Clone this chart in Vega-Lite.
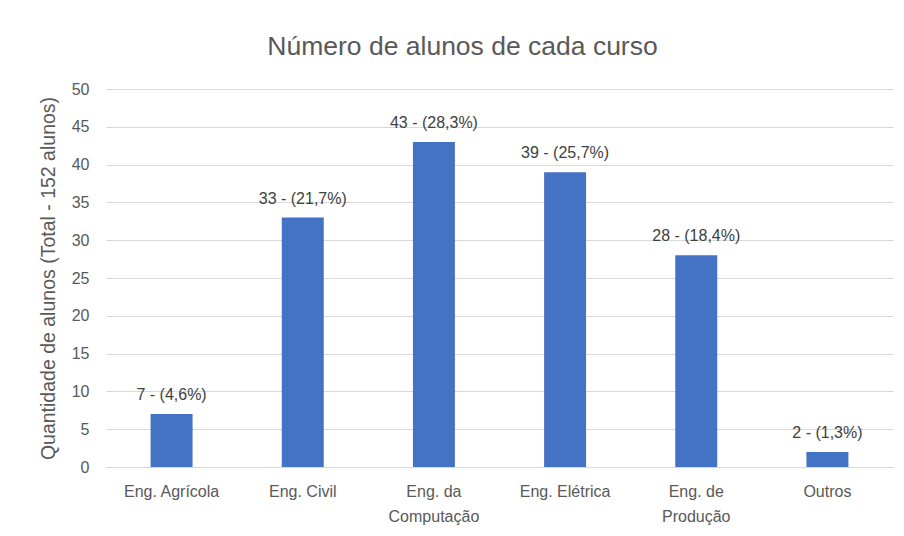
{
  "$schema": "https://vega.github.io/schema/vega-lite/v6.json",
  "width": 787,
  "height": 378,
  "autosize": {"type": "none"},
  "padding": {"left": 106, "top": 89, "right": 11, "bottom": 69},
  "background": "white",
  "config": {
    "view": {"stroke": null},
    "font": "Liberation Sans, sans-serif"
  },
  "title": {
    "text": "Número de alunos de cada curso",
    "fontSize": 26.5,
    "fontWeight": "normal",
    "color": "#595959",
    "anchor": "middle",
    "dx": -37,
    "offset": 21,
    "font": "Liberation Sans, sans-serif"
  },
  "data": {
    "values": [
      {"curso": "Eng. Agrícola", "alunos": 7, "rotulo": "7 - (4,6%)"},
      {"curso": "Eng. Civil", "alunos": 33, "rotulo": "33 - (21,7%)"},
      {"curso": "Eng. da Computação", "alunos": 43, "rotulo": "43 - (28,3%)"},
      {"curso": "Eng. Elétrica", "alunos": 39, "rotulo": "39 - (25,7%)"},
      {"curso": "Eng. de Produção", "alunos": 28, "rotulo": "28 - (18,4%)"},
      {"curso": "Outros", "alunos": 2, "rotulo": "2 - (1,3%)"}
    ]
  },
  "encoding": {
    "x": {
      "field": "curso",
      "type": "nominal",
      "sort": null,
      "scale": {"paddingInner": 0.68, "paddingOuter": 0.34},
      "axis": {
        "title": null,
        "labelAngle": 0,
        "labelFontSize": 16,
        "labelColor": "#595959",
        "labelPadding": 16,
        "labelLineHeight": 25,
        "labelBaseline": "top",
        "ticks": false,
        "domainColor": "#d9d9d9",
        "domainWidth": 1,
        "labelExpr": "datum.label == 'Eng. da Computação' ? ['Eng. da', 'Computação'] : datum.label == 'Eng. de Produção' ? ['Eng. de', 'Produção'] : datum.label"
      }
    },
    "y": {
      "field": "alunos",
      "type": "quantitative",
      "scale": {"domain": [0, 50]},
      "axis": {
        "title": "Quantidade de alunos (Total -  152 alunos)",
        "titleFontSize": 19.5,
        "titleFontWeight": "normal",
        "titleColor": "#595959",
        "titlePadding": 13,
        "values": [0, 5, 10, 15, 20, 25, 30, 35, 40, 45, 50],
        "labelFontSize": 16,
        "labelColor": "#595959",
        "labelPadding": 17,
        "ticks": false,
        "domain": false,
        "gridColor": "#d9d9d9",
        "gridWidth": 1
      }
    }
  },
  "layer": [
    {"mark": {"type": "bar", "color": "#4472C4"}},
    {
      "mark": {"type": "text", "baseline": "alphabetic", "dy": -14, "fontSize": 16, "color": "#404040"},
      "encoding": {"text": {"field": "rotulo"}}
    }
  ]
}
